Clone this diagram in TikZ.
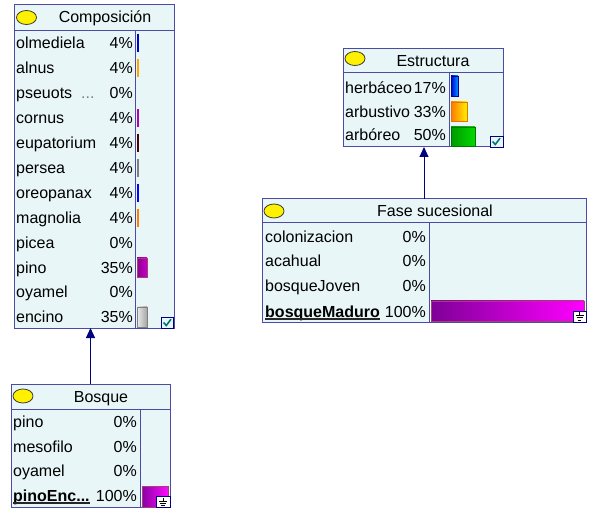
\documentclass[tikz,border=0pt]{standalone}
\usepackage{fontspec}
\setmainfont{Liberation Sans}
\usetikzlibrary{arrows.meta,shapes.geometric}
\definecolor{nfill}{HTML}{E8F6F8}
\definecolor{nbord}{HTML}{4B4BA6}
\definecolor{arrowc}{HTML}{000080}
\definecolor{chk}{HTML}{007878}
\definecolor{pur1}{HTML}{8A0090}
\definecolor{pur2}{HTML}{C800C8}
\newcommand\fs{\fontsize{16}{19}\selectfont}
\tikzset{
  box/.style={draw=nbord, fill=nfill, line width=1pt, inner sep=0pt, outer sep=0pt},
  sepline/.style={draw=nbord, line width=1pt},
  lab/.style={anchor=base west, inner sep=0pt, font=\fs},
  pct/.style={anchor=base east, inner sep=0pt, font=\fs},
  ttl/.style={anchor=base, inner sep=0pt, font=\fs},
  bulb/.style={ellipse, draw=black!70!olive, fill=yellow, line width=0.8pt, minimum width=20pt, minimum height=14pt, inner sep=0pt},
  thinbar/.style={line width=1.6pt},
  chkbox/.style={draw=arrowc, fill=nfill, line width=0.9pt},
  gndbox/.style={draw=arrowc, fill=white, line width=0.9pt},
  uline/.style={draw=black!85, line width=1.1pt},
  link/.style={draw=arrowc, line width=1pt, -{Triangle[length=10pt,width=9pt]}}
}
\begin{document}
\begin{tikzpicture}[x=1pt,y=-1pt]
\useasboundingbox[fill=white] (0,0) rectangle (606,532);

% ---------- Composicion ----------
\node[box, minimum width=160pt, minimum height=323pt] (comp) at (94,166.5) {};
\draw[sepline] (14,31) -- (174,31);
\draw[sepline] (135,31) -- (135,328);
\node[bulb] (compb) at (26.5,17.5) {};
\node[ttl] (compt) at (105,23) {Composición};
\node[lab] (c1) at (16,49) {olmediela};     \node[pct] (p1) at (133,49) {4\%};
\node[lab] (c2) at (16,73.9) {alnus};       \node[pct] (p2) at (133,73.9) {4\%};
\node[lab] (c3) at (16,98.8) {pseuots\ \ \textcolor{gray}{...}}; \node[pct] (p3) at (133,98.8) {0\%};
\node[lab] (c4) at (16,123.7) {cornus};     \node[pct] (p4) at (133,123.7) {4\%};
\node[lab] (c5) at (16,148.6) {eupatorium}; \node[pct] (p5) at (133,148.6) {4\%};
\node[lab] (c6) at (16,173.5) {persea};     \node[pct] (p6) at (133,173.5) {4\%};
\node[lab] (c7) at (16,198.4) {oreopanax};  \node[pct] (p7) at (133,198.4) {4\%};
\node[lab] (c8) at (16,223.3) {magnolia};   \node[pct] (p8) at (133,223.3) {4\%};
\node[lab] (c9) at (16,248.2) {picea};      \node[pct] (p9) at (133,248.2) {0\%};
\node[lab] (c10) at (16,273.1) {pino};      \node[pct] (p10) at (133,273.1) {35\%};
\node[lab] (c11) at (16,298) {oyamel};      \node[pct] (p11) at (133,298) {0\%};
\node[lab] (c12) at (16,322.9) {encino};    \node[pct] (p12) at (133,322.9) {35\%};
\draw[thinbar, color=blue!80!black] (137.8,34) -- (137.8,52);
\draw[thinbar, color=orange!70!yellow] (137.8,59) -- (137.8,77);
\draw[thinbar, color=violet!60!magenta] (137.8,109) -- (137.8,127);
\draw[thinbar, color=black!70!red] (137.8,134) -- (137.8,152);
\draw[thinbar, color=gray] (137.8,159) -- (137.8,177);
\draw[thinbar, color=blue] (137.8,184) -- (137.8,202);
\draw[thinbar, color=orange] (137.8,209) -- (137.8,227);
\shade[left color=pur1, right color=pur2] (137,258) rectangle (147,277);
\draw[color=black!40!magenta, line width=0.8pt] (137,258) rectangle (147,277);
\shade[left color=black!8, right color=black!35] (137,307) rectangle (147,327);
\draw[color=black!50, line width=0.8pt] (137,307) rectangle (147,327);
\draw[chkbox] (161,317) rectangle (173.5,328);
\draw[chk, line width=1.6pt] (163.5,322.5) -- (166.3,325.5) -- (171,319.2);

% ---------- Estructura ----------
\node[box, minimum width=160pt, minimum height=98pt] (estr) at (423,98) {};
\draw[sepline] (343,73) -- (503,73);
\draw[sepline] (449,73) -- (449,147);
\node[bulb] (estrb) at (355,58.5) {};
\node[ttl] (estrt) at (433,67) {Estructura};
\node[lab] (e1) at (345,94) {herbáceo};  \node[pct] (q1) at (446,94) {17\%};
\node[lab] (e2) at (345,117.5) {arbustivo}; \node[pct] (q2) at (446,117.5) {33\%};
\node[lab] (e3) at (345,141) {arbóreo};   \node[pct] (q3) at (446,141) {50\%};
\shade[left color=blue!85!black, right color=blue!40!cyan] (451,76) rectangle (458,96);
\draw[color=blue!60!black, line width=0.8pt] (451,76) rectangle (458,96);
\shade[left color=orange!95!red, right color=yellow!90!orange] (451,102) rectangle (467,121);
\draw[color=orange!90!black, line width=0.8pt] (451,102) rectangle (467,121);
\shade[left color=green!60!black, right color=green!85!black] (451,127) rectangle (475,146);
\draw[color=green!45!black, line width=0.8pt] (451,127) rectangle (475,146);
\draw[chkbox] (490,136) rectangle (503,147);
\draw[chk, line width=1.6pt] (492.5,141.5) -- (495.3,144.5) -- (500,138.2);

% ---------- Fase sucesional ----------
\node[box, minimum width=324pt, minimum height=123pt] (fase) at (424,260.5) {};
\draw[sepline] (262,223) -- (586,223);
\draw[sepline] (429,223) -- (429,322);
\node[bulb] (faseb) at (274,211) {};
\node[ttl] (faset) at (435,217) {Fase sucesional};
\node[lab] (f1) at (265,243) {colonizacion}; \node[pct] (r1) at (426,243) {0\%};
\node[lab] (f2) at (265,267) {acahual};      \node[pct] (r2) at (426,267) {0\%};
\node[lab] (f3) at (265,292) {bosqueJoven};  \node[pct] (r3) at (426,292) {0\%};
\node[lab] (f4) at (265,317) {\textbf{bosqueMaduro}}; \node[pct] (r4) at (426,317) {100\%};
\draw[uline] ([yshift=-2pt]f4.base west) -- ([yshift=-2pt]f4.base east);
\shade[left color=black!45!magenta!90!blue, right color=magenta] (431,301) rectangle (584,321);
\draw[color=black!40!magenta, line width=0.8pt] (431,301) rectangle (584,321);
\draw[gndbox] (573,311) rectangle (586,322);
\draw[black, line width=0.7pt] (579.5,312.5) -- (579.5,315.5) (575.5,315.5) -- (583.5,315.5) (576.5,317.8) -- (582.5,317.8) (577.8,320) -- (581.2,320);

% ---------- Bosque ----------
\node[box, minimum width=159pt, minimum height=123pt] (bosq) at (90.5,445.5) {};
\draw[sepline] (11,409) -- (170,409);
\draw[sepline] (140,409) -- (140,507);
\node[bulb] (bosqb) at (23,396) {};
\node[ttl] (bosqt) at (101,402) {Bosque};
\node[lab] (b1) at (13,427) {pino};      \node[pct] (s1) at (137,427) {0\%};
\node[lab] (b2) at (13,452) {mesofilo};  \node[pct] (s2) at (137,452) {0\%};
\node[lab] (b3) at (13,476) {oyamel};    \node[pct] (s3) at (137,476) {0\%};
\node[lab] (b4) at (13,501) {\textbf{pinoEnc...}}; \node[pct] (s4) at (137,501) {100\%};
\draw[uline] ([yshift=-2pt]b4.base west) -- ([yshift=-2pt]b4.base east);
\shade[left color=black!40!magenta!90!blue, right color=magenta!95!white] (142,486) rectangle (168,507);
\draw[color=black!40!magenta, line width=0.8pt] (142,486) rectangle (168,507);
\draw[gndbox] (156,496.5) rectangle (170,507);
\draw[black, line width=0.7pt] (163,498) -- (163,501) (159,501) -- (167,501) (160,503.3) -- (166,503.3) (161.3,505.5) -- (164.7,505.5);

% ---------- links ----------
\draw[link] (bosq.north) -- (bosq.north |- comp.south);
\draw[link] (fase.north) -- (fase.north |- estr.south);
\end{tikzpicture}
\end{document}
